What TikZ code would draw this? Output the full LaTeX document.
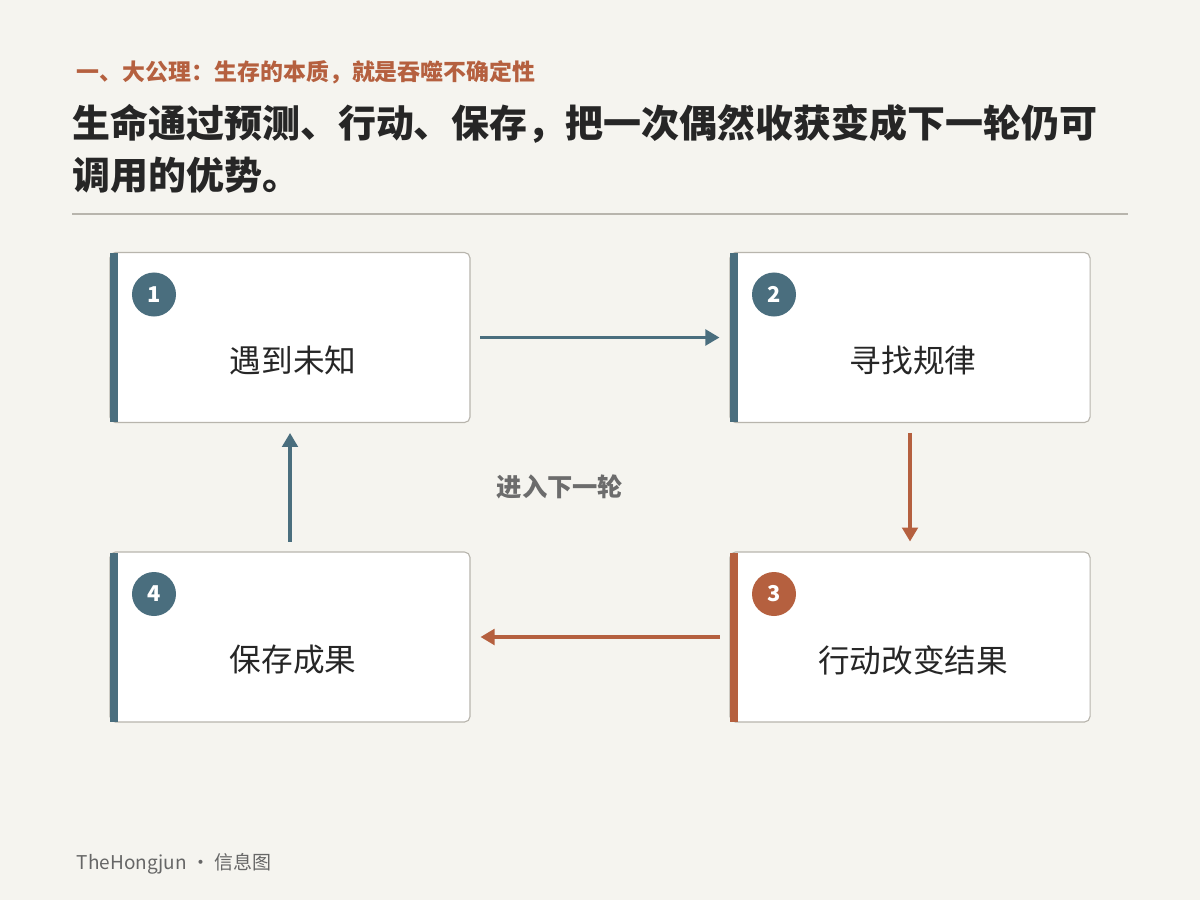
\documentclass[tikz,border=0pt]{standalone}
\usepackage{fontspec}
\setmainfont{Noto Sans CJK SC}
\usetikzlibrary{arrows.meta}
\definecolor{bg}{HTML}{F5F4EF}
\definecolor{slate}{HTML}{4A6E7E}
\definecolor{rust}{HTML}{B5603F}
\definecolor{ink}{HTML}{262626}
\definecolor{rule}{HTML}{B8B5AD}
\tikzset{
  box/.style={draw=rule, fill=white, rounded corners=4pt, line width=0.8pt, minimum width=9cm, minimum height=4.25cm, inner sep=0pt},
  num/.style={circle, fill=#1, text=white, minimum size=1.1cm, inner sep=0pt, font=\fontsize{15.5}{15}\selectfont\bfseries},
  label/.style={text=ink, font=\fontsize{22.5}{24}\selectfont},
  flow/.style={line width=2.5pt, -{Triangle[length=10pt,width=11pt]}}
}
\begin{document}
\begin{tikzpicture}[x=0.025cm, y=-0.025cm]
  \fill[bg] (0,0) rectangle (1200,900);
  \useasboundingbox (0,0) rectangle (1200,900);

  % heading
  \node[anchor=west, text=rust, font=\fontsize{16.3}{16}\selectfont\bfseries] (kicker) at (72,72) {一、大公理：生存的本质，就是吞噬不确定性};
  \node[anchor=north west, text=ink, align=left, inner sep=0pt, font=\fontsize{27}{37}\selectfont\bfseries] (title) at (72,104)
    {生命通过预测、行动、保存，把一次偶然收获变成下一轮仍可\\调用的优势。};
  \draw[rule, line width=1pt] (72,214) -- (1128,214);

  % boxes
  \foreach \nm/\x/\y/\col/\n/\txt in {s1/290/337.5/slate/1/遇到未知, s2/910/337.5/slate/2/寻找规律, s3/910/637/rust/3/行动改变结果, s4/290/637/slate/4/保存成果}{
    \node[box] (\nm) at (\x,\y) {};
    \fill[\col] (\x-180,\y-84.5) rectangle (\x-172,\y+84.5);
    \node[num=\col] (\nm n) at (\x-136,\y-43) {\n};
    \node[label] (\nm t) at (\x+3,\y+23) {\txt};
  }

  % connectors
  \draw[flow, slate] ([xshift=7pt]s1.east) -- ([xshift=-7pt]s2.west);
  \draw[flow, rust] ([yshift=-7pt]s2.south) -- ([yshift=7pt]s3.north);
  \draw[flow, rust] ([xshift=-7pt]s3.west) -- ([xshift=7pt]s1.east |- s4.east);
  \draw[flow, slate] ([yshift=7pt]s4.north) -- ([yshift=-7pt]s1.south);
  \node[text=gray!85!black, font=\fontsize{18}{18}\selectfont\bfseries] (loop) at (560,487) {进入下一轮};

  % footer
  \node[anchor=west, text=gray!80!black, font=\fontsize{13.5}{14}\selectfont] (foot) at (72,864) {TheHongjun · 信息图};
\end{tikzpicture}
\end{document}
